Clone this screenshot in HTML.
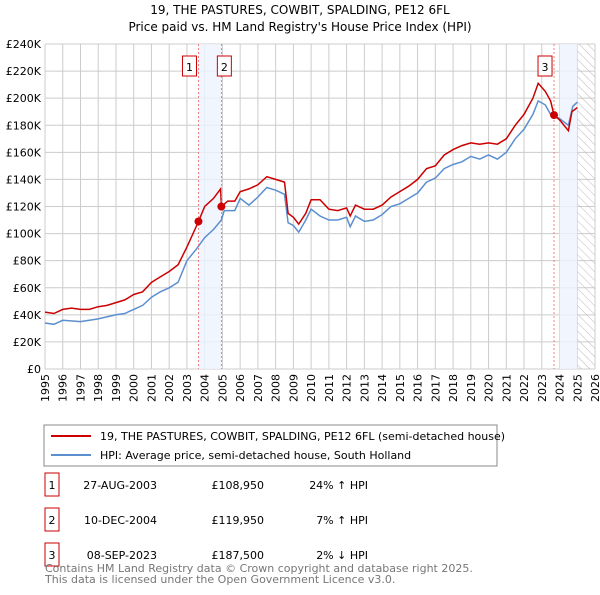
<!DOCTYPE html>
<html><head><meta charset="utf-8"><style>
body{margin:0;background:#fff;font-family:"Liberation Sans","DejaVu Sans",sans-serif;}
svg text{font-family:"DejaVu Sans","Liberation Sans",sans-serif;}
</style></head><body>
<svg id="c" width="600" height="590" viewBox="0 0 600 590" xmlns="http://www.w3.org/2000/svg">
<text x="300" y="14" text-anchor="middle" font-size="12">19, THE PASTURES, COWBIT, SPALDING, PE12 6FL</text>
<text x="300" y="31" text-anchor="middle" font-size="12">Price paid vs. HM Land Registry's House Price Index (HPI)</text>
<g id="grid"></g><g id="bands"></g><g id="lines"></g><g id="axes"></g>
<rect x="44" y="425" width="453" height="41" fill="#fff" stroke="#888"/>
<line x1="51" y1="436" x2="91" y2="436" stroke="#cc0000" stroke-width="2"/>
<text x="100" y="440" font-size="11">19, THE PASTURES, COWBIT, SPALDING, PE12 6FL (semi-detached house)</text>
<line x1="51" y1="455" x2="91" y2="455" stroke="#5b8fd0" stroke-width="2"/>
<text x="100" y="459" font-size="11">HPI: Average price, semi-detached house, South Holland</text>
<g font-size="11" id="table"></g>
<text x="45" y="572" font-size="11" fill="#777">Contains HM Land Registry data © Crown copyright and database right 2025.</text>
<text x="45" y="583" font-size="11" fill="#777">This data is licensed under the Open Government Licence v3.0.</text>
</svg>
<script>
const propYears=[1995,1995.5,1996,1996.5,1997,1997.5,1998,1998.5,1999,1999.5,2000,2000.5,2001,2001.5,2002,2002.5,2003,2003.65,2004,2004.5,2004.9,2004.94,2005.3,2005.7,2006,2006.5,2007,2007.5,2008,2008.5,2008.7,2009,2009.3,2009.7,2010,2010.5,2011,2011.5,2012,2012.2,2012.5,2013,2013.5,2014,2014.5,2015,2015.5,2016,2016.5,2017,2017.5,2018,2018.5,2019,2019.5,2020,2020.5,2021,2021.5,2022,2022.5,2022.8,2023.2,2023.5,2023.69,2024,2024.5,2024.7,2025];
const propValues=[42,41,44,45,44,44,46,47,49,51,55,57,64,68,72,77,90,108.95,120,126,133,119.95,124,124,131,133,136,142,140,138,115,112,107,115,125,125,118,117,119,113,121,118,118,121,127,131,135,140,148,150,158,162,165,167,166,167,166,170,180,188,200,211,205,198,187.5,184,176,190,193];
const hpiYears=[1995,1995.5,1996,1997,1998,1999,1999.5,2000,2000.5,2001,2001.5,2002,2002.5,2003,2003.5,2004,2004.5,2004.94,2005.1,2005.7,2006,2006.5,2007,2007.5,2008,2008.5,2008.7,2009,2009.3,2009.7,2010,2010.5,2011,2011.5,2012,2012.2,2012.5,2013,2013.5,2014,2014.5,2015,2015.5,2016,2016.5,2017,2017.5,2018,2018.5,2019,2019.5,2020,2020.5,2021,2021.5,2022,2022.5,2022.8,2023.2,2023.5,2024,2024.5,2024.75,2025];
const hpiValues=[34,33,36,35,37,40,41,44,47,53,57,60,64,80,88,97,103,110,117,117,126,121,127,134,132,129,108,106,101,110,118,113,110,110,112,105,113,109,110,114,120,122,126,130,138,141,148,151,153,157,155,158,155,160,170,177,188,198,195,188,185,180,194,197];
const saleLabels=["1","2","3"];
const saleYears=[2003.65,2004.94,2023.69];
const saleValues=[108.95,119.95,187.5];
const saleDates=["27-AUG-2003","10-DEC-2004","08-SEP-2023"];
const salePrices=["£108,950","£119,950","£187,500"];
const saleHpi=["24% ↑ HPI","7% ↑ HPI","2% ↓ HPI"];
const yTicks=[0,20,40,60,80,100,120,140,160,180,200,220,240];
const xTicks=[1995,1996,1997,1998,1999,2000,2001,2002,2003,2004,2005,2006,2007,2008,2009,2010,2011,2012,2013,2014,2015,2016,2017,2018,2019,2020,2021,2022,2023,2024,2025,2026];
const NS="http://www.w3.org/2000/svg";
const X0=45,X1=595,Y0=369,Y1=44;
const xs=y=>X0+(y-1995)/(2026-1995)*(X1-X0);
const ys=v=>Y0-v/240*(Y0-Y1);
function mk(p,t,a){const e=document.createElementNS(NS,t);for(const k in a)e.setAttribute(k,a[k]);p.appendChild(e);return e;}
const grid=document.getElementById('grid'),bands=document.getElementById('bands'),lines=document.getElementById('lines'),axes=document.getElementById('axes'),table=document.getElementById('table');
// hatch
const defs=mk(document.getElementById('c'),'defs',{});
const pat=mk(defs,'pattern',{id:'h',width:6,height:6,patternUnits:'userSpaceOnUse',patternTransform:'rotate(-45)'});
mk(pat,'line',{x1:0,y1:0,x2:0,y2:6,stroke:'#bbb','stroke-width':1});
yTicks.forEach(v=>{const l=mk(grid,'line',{x1:X0,x2:X1,y1:ys(v),y2:ys(v),stroke:'#ccc'});


const t=mk(axes,'text',{x:X0-4,y:ys(v)+4,'text-anchor':'end','font-size':11});t.textContent='£'+(v?v+'K':'0');

});
xTicks.forEach(y=>{const l=mk(grid,'line',{x1:xs(y),x2:xs(y),y1:Y1,y2:Y0,stroke:'#ccc'});


const t=mk(axes,'text',{transform:`translate(${xs(y)+4},${Y0+5}) rotate(-90)`,'text-anchor':'end','font-size':11});t.textContent=y;

});
const hr=mk(bands,'rect',{x:xs(2025),y:Y1,width:X1-xs(2025),height:Y0-Y1,fill:'url(#h)'});


const b1=mk(bands,'rect',{x:xs(saleYears[0]),y:Y1,width:xs(saleYears[1])-xs(saleYears[0]),height:Y0-Y1,fill:'#eef3fc',opacity:0.8});


const b3=mk(bands,'rect',{x:xs(2024),y:Y1,width:xs(2025)-xs(2024),height:Y0-Y1,fill:'#eef3fc',opacity:0.8});


const pts=(xa,va)=>xa.map((y,i)=>xs(y).toFixed(1)+','+ys(va[i]).toFixed(1)).join(' ');
const hl=mk(lines,'polyline',{points:pts(hpiYears,hpiValues),fill:'none',stroke:'#5b8fd0','stroke-width':1.5});


const pl=mk(lines,'polyline',{points:pts(propYears,propValues),fill:'none',stroke:'#cc0000','stroke-width':1.5});


saleYears.forEach((y,i)=>{
const d=mk(lines,'line',{x1:xs(y),x2:xs(y),y1:Y1,y2:Y0,stroke:'#e66','stroke-dasharray':'2,2','stroke-width':0.8});


const c=mk(lines,'circle',{cx:xs(y),cy:ys(saleValues[i]),r:4,fill:'#cc0000'});


const bx=xs(y)-(i==1?-3:9);
const r=mk(lines,'rect',{x:bx-7,y:56,width:14,height:20,fill:'#fff',stroke:'#cc0000'});


const t=mk(lines,'text',{x:bx,y:71,'text-anchor':'middle','font-size':11});t.textContent=saleLabels[i];


const ry=485+i*35;
const tr=mk(table,'rect',{x:45,y:ry-12,width:14,height:23,fill:'#fff',stroke:'#cc0000'});


const cells=[[52,saleLabels[i],'middle'],[157,saleDates[i],'end'],[264,salePrices[i],'end'],[368,saleHpi[i],'end']];
cells.forEach(([x,s,a],j)=>{const tt=mk(table,'text',{x:x,y:ry+4,'text-anchor':a});tt.textContent=s;

});
});
</script>
</body></html>
